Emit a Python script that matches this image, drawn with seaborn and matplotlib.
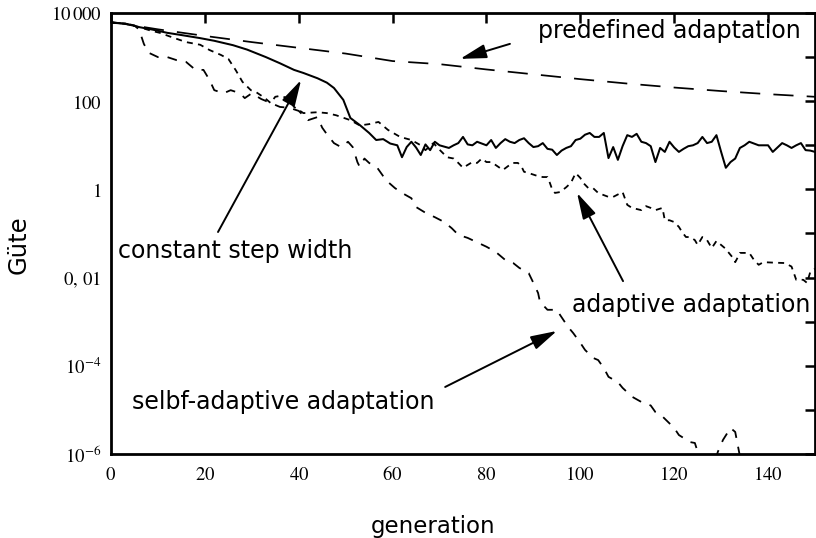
import numpy as np
import pandas as pd
import matplotlib
matplotlib.use("Agg")
import matplotlib.pyplot as plt
import seaborn as sns
from matplotlib.ticker import FixedLocator, FixedFormatter, NullLocator

# ---------------- data (stored as log10 of "Güte") ----------------
pre_gen = [0, 10, 20, 30, 40, 50, 60, 70, 80, 90, 100, 110, 120, 130, 140, 150]
pre_log10 = [3.80, 3.63, 3.48, 3.34, 3.21, 3.08, 2.91, 2.84, 2.72, 2.61, 2.50, 2.40, 2.31, 2.23, 2.16, 2.10]

const_gen = [0, 3, 6, 9, 12, 15, 19, 22, 26, 29, 33, 36, 39, 41, 44, 46, 47.5, 49.5, 51, 53, 55, 56.5,
             58, 59.5, 61] + list(range(62, 151))
const_log10 = [3.78, 3.76, 3.68, 3.62, 3.55, 3.50, 3.43, 3.37, 3.27, 3.17, 3.00, 2.86, 2.71, 2.64, 2.52,
               2.42, 2.30, 2.03, 1.62, 1.46, 1.28, 1.12, 1.14, 1.04, 1.00,
               0.73, 0.96, 1.08, 0.95, 0.78, 1.02, 0.89, 1.08, 1.00, 0.97,
               0.94, 1.00, 1.05, 1.19, 1.02, 1.00, 1.08, 1.04, 1.00, 1.12,
               0.94, 1.05, 1.14, 1.08, 1.05, 1.12, 1.16, 1.05, 0.96, 0.98,
               1.05, 0.92, 0.90, 0.78, 0.88, 0.94, 0.98, 1.12, 1.15, 1.24,
               1.28, 1.19, 1.19, 1.28, 0.71, 0.96, 0.67, 0.98, 1.23, 1.19,
               1.26, 1.08, 1.05, 0.98, 0.62, 0.94, 0.85, 1.08, 0.95, 0.85,
               0.92, 0.98, 1.00, 1.05, 1.19, 1.05, 1.08, 1.23, 0.85, 0.49,
               0.62, 0.70, 0.94, 1.00, 1.08, 1.04, 1.00, 1.00, 1.00, 0.85,
               0.95, 1.05, 1.00, 0.94, 1.00, 1.05, 0.89, 0.88, 0.85]

adapt_gen = [0, 3, 6, 8.5, 10.4, 13, 16, 19, 21, 23.4, 25, 26.6, 28, 29.8, 31, 32.8, 34, 35, 36, 37.7,
             39, 41, 44, 46, 48, 51, 53, 55, 57, 59, 61.6, 64, 66, 67, 68.7, 70, 71.6, 73, 74, 75,
             77, 78, 79, 80, 81, 82, 83.5, 85.5, 86.7, 87.5, 88, 89, 91, 92, 93, 93.5, 94, 94.6, 95.7,
             97, 98, 99, 100, 100.6, 101.7, 102.7, 103.8, 105, 106, 107, 109, 110, 111, 113, 114, 115,
             116, 117.5, 118, 119, 120, 121, 121.7, 122.5, 123.4, 124.4, 125, 126, 127, 128, 129,
             131, 131.5, 132.5, 133, 133.6, 134, 136, 137, 138, 139, 141, 143.6, 145, 146, 147.5,
             148.3, 149, 150]
adapt_log10 = [3.78, 3.76, 3.68, 3.60, 3.55, 3.45, 3.34, 3.28, 3.16, 3.05, 2.96, 2.70, 2.44, 2.25, 2.20,
               2.07, 1.96, 2.10, 2.12, 2.07, 1.87, 1.73, 1.75, 1.73, 1.68, 1.57, 1.45, 1.48, 1.53, 1.35,
               1.19, 1.12, 1.00, 0.89, 1.05, 0.90, 0.73, 0.70, 0.60, 0.49, 0.62, 0.60, 0.70, 0.62, 0.62,
               0.55, 0.44, 0.60, 0.60, 0.51, 0.40, 0.37, 0.30, 0.28, 0.28, 0.15, 0.00, -0.08, -0.06,
               0.05, 0.15, 0.37, 0.26, 0.15, 0.03, 0.03, -0.08, -0.13, -0.17, -0.17, -0.06, -0.35,
               -0.42, -0.47, -0.38, -0.42, -0.47, -0.42, -0.70, -0.70, -0.74, -0.85, -0.97, -1.08,
               -1.08, -1.15, -1.26, -1.08, -1.15, -1.33, -1.17, -1.35, -1.42, -1.55, -1.65, -1.53,
               -1.44, -1.44, -1.60, -1.71, -1.65, -1.66, -1.67, -1.75, -2.05, -2.05, -2.12, -1.87, -1.80]

self_gen = [0, 3, 5, 6, 7, 8, 10, 12, 14, 16, 18, 19.7, 21, 22, 24, 25.5, 27.5, 28.5, 30, 32, 34, 36,
            38, 40, 42, 44, 45, 46, 47.5, 49, 50.5, 51.5, 52.5, 53, 54, 55, 56.6, 58, 59, 60.5, 62, 64,
            65, 67, 69, 71, 72.6, 74, 76, 78, 80, 82, 84, 85.7, 87, 89, 90, 91, 91.4, 93, 95, 95.7,
            97.4, 98.5, 100, 101, 102.7, 103.8, 105, 106, 108, 109, 110, 111, 113, 115, 116, 117.6,
            120, 121, 123.4, 124.4, 125, 126, 128, 129.3, 130.4, 132, 133, 134, 135, 150]
self_log10 = [3.78, 3.76, 3.72, 3.62, 3.30, 3.10, 3.00, 3.00, 2.93, 2.89, 2.71, 2.71, 2.48, 2.25, 2.18,
              2.25, 2.18, 2.07, 2.18, 2.05, 1.96, 1.87, 1.85, 1.78, 1.57, 1.64, 1.40, 1.25, 1.05, 0.96,
              1.08, 0.96, 0.62, 0.51, 0.70, 0.60, 0.51, 0.30, 0.17, 0.03, -0.08, -0.20, -0.40, -0.53,
              -0.63, -0.74, -0.88, -1.03, -1.10, -1.20, -1.30, -1.42, -1.60, -1.67, -1.78, -1.90,
              -2.12, -2.35, -2.55, -2.73, -2.73, -2.85, -3.12, -3.26, -3.48, -3.64, -3.82, -3.87,
              -4.05, -4.25, -4.37, -4.50, -4.60, -4.70, -4.82, -4.90, -5.05, -5.16, -5.41, -5.57,
              -5.73, -5.75, -5.95, -6.40, -6.40, -5.95, -5.68, -5.41, -5.50, -6.05, -6.50, -6.60]

x_ticks = [0, 20, 40, 60, 80, 100, 120, 140]
x_tick_labels = ["$0$", "$20$", "$40$", "$60$", "$80$", "$100$", "$120$", "$140$"]
y_tick_exponents = [-6, -5, -4, -3, -2, -1, 0, 1, 2, 3, 4]
y_tick_labels = [r"$10^{-6}$", "", r"$10^{-4}$", "", r"$0,\,01$", "", "$1$", "", "$100$", "", r"$10\,000$"]

# ---------------- style ----------------
sns.set_theme(style="white")
plt.rcParams["font.family"] = ["DejaVu Sans"]
plt.rcParams["mathtext.fontset"] = "stix"
plt.rcParams["lines.scale_dashes"] = False

fig = plt.figure(figsize=(8.16, 5.38), dpi=100)
ax = fig.add_axes([111 / 816, 1 - 454 / 538, (815 - 111) / 816, (454 - 13) / 538])

series = [
    (pre_gen, pre_log10, (0, (14.5, 9.5)), 1.25),
    (const_gen, const_log10, "-", 1.45),
    (adapt_gen, adapt_log10, (0, (4.3, 3.8)), 1.3),
    (self_gen, self_log10, (0, (7.0, 6.5)), 1.3),
]
for gen, lg, ls, lw in series:
    df = pd.DataFrame({"generation": gen, "Güte": np.power(10.0, lg)})
    sns.lineplot(data=df, x="generation", y="Güte", ax=ax, color="black", linewidth=lw,
                 linestyle=ls, errorbar=None, sort=False, legend=False)

ax.set_yscale("log")
ax.set_xlim(0, 150)
ax.set_ylim(1e-6, 1e4)

ax.yaxis.set_major_locator(FixedLocator([10.0 ** k for k in y_tick_exponents]))
ax.yaxis.set_major_formatter(FixedFormatter(y_tick_labels))
ax.yaxis.set_minor_locator(NullLocator())
ax.xaxis.set_major_locator(FixedLocator(x_ticks))
ax.xaxis.set_major_formatter(FixedFormatter(x_tick_labels))
ax.xaxis.set_minor_locator(NullLocator())

ax.tick_params(axis="both", which="major", direction="in", length=7.5, width=1.8,
               top=True, right=True, labelsize=13.5, colors="black")
ax.tick_params(axis="y", pad=7)
ax.tick_params(axis="x", pad=8)
for sp in ax.spines.values():
    sp.set_visible(True)
    sp.set_color("black")
    sp.set_linewidth(2.0)

ax.set_xlabel("generation", fontsize=16.5, color="black")
ax.set_ylabel("Güte", fontsize=17.5, color="black")
ax.xaxis.set_label_coords((433 - 111) / 704, (454 - 533) / 441)
ax.xaxis.label.set_va("baseline")
ax.yaxis.set_label_coords((31 - 111) / 704, (454 - 245) / 441)

# annotations
txt_kw = dict(fontsize=17, color="black", va="baseline", ha="left")
ax.text(91.0, 10 ** 3.433, "predefined adaptation", **txt_kw)
ax.text(1.5, 10 ** -1.556, "constant step width", **txt_kw)
ax.text(98.2, 10 ** -2.78, "adaptive adaptation", **txt_kw)
ax.text(4.5, 10 ** -4.98, "selbf-adaptive adaptation", **txt_kw)

arr = dict(arrowstyle="-|>,head_length=1.0,head_width=0.27", color="black", lw=1.4,
           shrinkA=0, shrinkB=0, mutation_scale=16)
ax.annotate("", xy=(74.4, 10 ** 2.96), xytext=(85.0, 10 ** 3.30), arrowprops=arr)
ax.annotate("", xy=(40.5, 10 ** 2.48), xytext=(22.8, 10 ** -0.966), arrowprops=arr)
ax.annotate("", xy=(99.3, 10 ** -0.08), xytext=(109.1, 10 ** -2.08), arrowprops=arr)
ax.annotate("", xy=(95.0, 10 ** -3.21), xytext=(71.2, 10 ** -4.48), arrowprops=arr)

fig.savefig("out.png", dpi=100, facecolor="white")
